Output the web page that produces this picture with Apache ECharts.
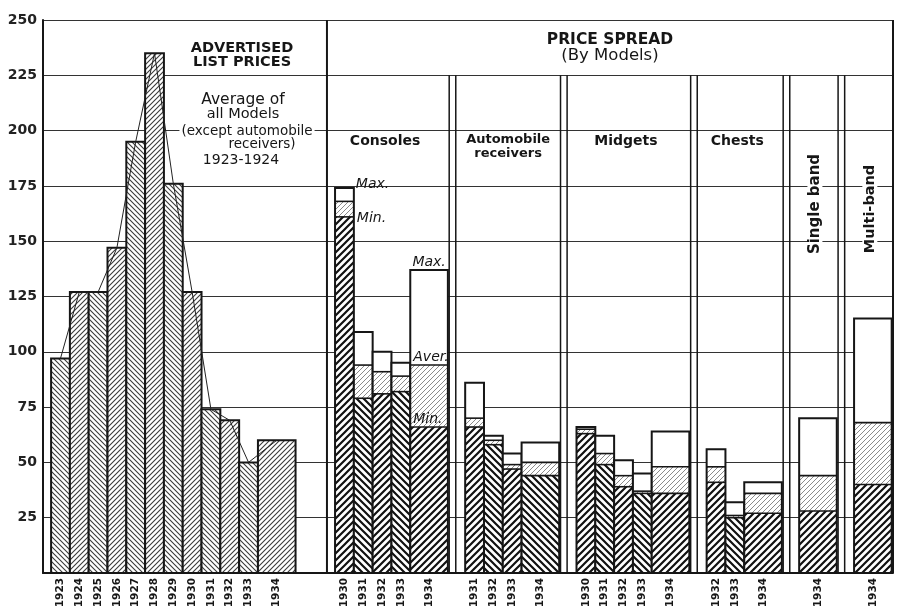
<!DOCTYPE html>
<html>
<head>
<meta charset="utf-8">
<style>
  html, body { margin: 0; padding: 0; background: #fff; }
  #chart { width: 898px; height: 607px; }
</style>
<script src="https://cdn.jsdelivr.net/npm/echarts@6/dist/echarts.min.js"></script>
</head>
<body>
<div id="chart"></div>
<script>
// advertised list prices, average of all models
const listYears = ['1923', '1924', '1925', '1926', '1927', '1928', '1929', '1930', '1931', '1932', '1933', '1934'];
const listPrices = [97, 127, 127, 147, 195, 235, 176, 127, 74, 69, 50, 60];

// price spread by models (min / average / max)
const groupNames = ['Consoles', 'Automobile receivers', 'Midgets', 'Chests', 'Single band', 'Multi-band'];
const consoleYears = ['1930', '1931', '1932', '1933', '1934'];
const consoleMin = [161, 79, 81, 82, 66];
const consoleAver = [168, 94, 91, 89, 94];
const consoleMax = [174, 109, 100, 95, 137];
const autoYears = ['1931', '1932', '1933', '1934'];
const autoMin = [66, 58, 47, 44];
const autoAver = [70, 60, 49, 50];
const autoMax = [86, 62, 54, 59];
const midgetYears = ['1930', '1931', '1932', '1933', '1934'];
const midgetMin = [63, 49, 39, 36, 36];
const midgetAver = [65, 54, 44, 37, 48];
const midgetMax = [66, 62, 51, 45, 64];
const chestYears = ['1932', '1933', '1934'];
const chestMin = [41, 25, 27];
const chestAver = [48, 26, 36];
const chestMax = [56, 32, 41];
const singleYears = ['1934'];
const singleMin = [28];
const singleAver = [44];
const singleMax = [70];
const multiYears = ['1934'];
const multiMin = [40];
const multiAver = [68];
const multiMax = [115];

const yTicks = { min: 0, max: 250, interval: 25 };

// layout in bar-width units along a hidden x axis
const SLOT_START = 0.43;
const LEFT_DIVIDER = 15.1;
const GROUP_PAD = 0.43;
const DIV_GAP = 0.07;
const DIV_W = 0.35;
const AFTER_DIV = 0.5;
const X_MAX = 45.2;
const HEADER_LINE = 225;
const FONT = '"DejaVu Sans", sans-serif';
const INK = '#161616';

const barWidth = y => (y === '1934' ? 2 : 1);

const listBars = [];
let pos = SLOT_START;
listYears.forEach((y, i) => {
  const w = barWidth(y);
  listBars.push({ x0: pos, x1: pos + w, year: y, value: listPrices[i], dir: i % 2 ? 1 : -1 });
  pos += w;
});

const spreadGroups = [
  { years: consoleYears, min: consoleMin, aver: consoleAver, max: consoleMax },
  { years: autoYears, min: autoMin, aver: autoAver, max: autoMax },
  { years: midgetYears, min: midgetMin, aver: midgetAver, max: midgetMax },
  { years: chestYears, min: chestMin, aver: chestAver, max: chestMax },
  { years: singleYears, min: singleMin, aver: singleAver, max: singleMax },
  { years: multiYears, min: multiMin, aver: multiAver, max: multiMax }
];

const spreadBars = [];
const dividers = [{ x: LEFT_DIVIDER, top: 250, w: 2 }];
const groupSpans = [];
let spanStart = LEFT_DIVIDER;
pos = LEFT_DIVIDER + GROUP_PAD;
spreadGroups.forEach((g, gi) => {
  g.years.forEach((y, i) => {
    const w = barWidth(y);
    spreadBars.push({
      x0: pos, x1: pos + w, year: y,
      min: g.min[i], aver: g.aver[i], max: g.max[i],
      dir: i % 2 ? -1 : 1
    });
    pos += w;
  });
  if (gi < spreadGroups.length - 1) {
    const d = pos + DIV_GAP;
    dividers.push({ x: d, top: HEADER_LINE, w: 1.5 }, { x: d + DIV_W, top: HEADER_LINE, w: 1.5 });
    groupSpans.push([spanStart, d]);
    spanStart = d + DIV_W;
    pos = d + DIV_W + AFTER_DIV;
  } else {
    groupSpans.push([spanStart, X_MAX]);
  }
});
dividers.push({ x: X_MAX, top: 250, w: 2 });

// diagonal hatch patterns
function hatch(dir, color, width, size) {
  const c = document.createElement('canvas');
  c.width = size;
  c.height = size;
  const g = c.getContext('2d');
  g.fillStyle = '#fff';
  g.fillRect(0, 0, size, size);
  g.strokeStyle = color;
  g.lineWidth = width;
  g.lineCap = 'square';
  g.beginPath();
  for (let k = -2; k <= 2; k++) {
    if (dir > 0) {
      g.moveTo(k * size - size, 2 * size);
      g.lineTo(k * size + 2 * size, -size);
    } else {
      g.moveTo(k * size - size, -size);
      g.lineTo(k * size + 2 * size, 2 * size);
    }
  }
  g.stroke();
  return { image: c, repeat: 'repeat' };
}
const listHatch = { '1': hatch(1, '#3a3a3a', 1.1, 5), '-1': hatch(-1, '#3a3a3a', 1.1, 5) };
const darkHatch = { '1': hatch(1, '#111', 2.2, 7), '-1': hatch(-1, '#111', 2.2, 7) };
const lightHatch = hatch(1, '#8a8a8a', 1, 5);

function yearLabel(cx, baseY, text) {
  return {
    type: 'text',
    x: cx,
    y: baseY + 5,
    rotation: Math.PI / 2,
    style: { text, align: 'right', verticalAlign: 'middle', font: 'bold 10.5px ' + FONT, fill: INK }
  };
}

function renderListBar(params, api) {
  const b = listBars[params.dataIndex];
  const p0 = api.coord([b.x0, 0]);
  const p1 = api.coord([b.x1, b.value]);
  const w = p1[0] - p0[0];
  return {
    type: 'group',
    children: [
      {
        type: 'rect',
        shape: { x: p0[0], y: p1[1], width: w, height: p0[1] - p1[1] },
        style: { fill: listHatch[b.dir], stroke: INK, lineWidth: 2 }
      },
      yearLabel(p0[0] + w / 2, p0[1], b.year)
    ]
  };
}

function renderSpreadBar(params, api) {
  const b = spreadBars[params.dataIndex];
  const p0 = api.coord([b.x0, 0]);
  const x = p0[0];
  const w = api.coord([b.x1, 0])[0] - x;
  const y0 = p0[1];
  const yMin = api.coord([b.x0, b.min])[1];
  const yAver = api.coord([b.x0, b.aver])[1];
  const yMax = api.coord([b.x0, b.max])[1];
  return {
    type: 'group',
    children: [
      { type: 'rect', shape: { x, y: yMax, width: w, height: yAver - yMax }, style: { fill: '#fff' } },
      { type: 'rect', shape: { x, y: yAver, width: w, height: yMin - yAver }, style: { fill: lightHatch } },
      { type: 'rect', shape: { x, y: yMin, width: w, height: y0 - yMin }, style: { fill: darkHatch[b.dir] } },
      { type: 'line', shape: { x1: x, y1: yAver, x2: x + w, y2: yAver }, style: { stroke: INK, lineWidth: 1.6 } },
      { type: 'line', shape: { x1: x, y1: yMin, x2: x + w, y2: yMin }, style: { stroke: INK, lineWidth: 1.6 } },
      { type: 'rect', shape: { x, y: yMax, width: w, height: y0 - yMax }, style: { fill: 'none', stroke: INK, lineWidth: 2 } },
      yearLabel(x + w / 2, y0, b.year)
    ]
  };
}

function renderDivider(params, api) {
  const d = dividers[params.dataIndex];
  const a = api.coord([d.x, 0]);
  const b = api.coord([d.x, d.top]);
  return {
    type: 'line',
    shape: { x1: a[0], y1: a[1], x2: b[0], y2: b[1] },
    style: { stroke: INK, lineWidth: d.w }
  };
}

const chart = echarts.init(document.getElementById('chart'));

chart.setOption({
  animation: false,
  backgroundColor: '#fff',
  grid: { left: 43, right: 5, top: 20, bottom: 34 },
  xAxis: {
    type: 'value',
    min: 0,
    max: X_MAX,
    axisLine: { show: true, lineStyle: { color: INK, width: 2 } },
    axisTick: { show: false },
    axisLabel: { show: false },
    splitLine: { show: false }
  },
  yAxis: {
    type: 'value',
    min: yTicks.min,
    max: yTicks.max,
    interval: yTicks.interval,
    axisLine: { show: true, lineStyle: { color: INK, width: 2 } },
    axisTick: { show: false },
    axisLabel: {
      margin: 6,
      color: '#222',
      fontFamily: FONT,
      fontSize: 14,
      fontWeight: 'bold',
      formatter: v => (v === 0 ? '' : String(v))
    },
    splitLine: { lineStyle: { color: '#333', width: 1.2 } }
  },
  series: [
    {
      type: 'custom',
      name: 'list',
      renderItem: renderListBar,
      data: listBars.map(b => [b.x0, b.value]),
      z: 2
    },
    {
      type: 'line',
      name: 'polygon',
      data: listBars.map(b => [(b.x0 + b.x1) / 2, b.value]),
      symbol: 'none',
      lineStyle: { color: '#222', width: 1 },
      z: 3
    },
    {
      type: 'custom',
      name: 'spread',
      renderItem: renderSpreadBar,
      data: spreadBars.map(b => [b.x0, b.max]),
      z: 2
    },
    {
      type: 'custom',
      name: 'frame',
      renderItem: renderDivider,
      data: dividers.map(d => [d.x, d.top]),
      z: 4
    }
  ]
});

// texts placed through the axes
const px = (x, y) => chart.convertToPixel({ xAxisIndex: 0, yAxisIndex: 0 }, [x, y]);
const txt = (x, y, text, font, extra) => ({
  type: 'text',
  x, y,
  z: 10,
  style: Object.assign({ text, font, fill: INK, align: 'center', verticalAlign: 'middle' }, extra || {})
});
const capsFont = 'bold 14.5px ' + FONT;
const groupFont = 'bold 14px ' + FONT;
const noteFont = 'italic 14px ' + FONT;

const rightMid = (px(LEFT_DIVIDER, 0)[0] + px(X_MAX, 0)[0]) / 2;
const graphics = [
  txt(242, 48, 'ADVERTISED', capsFont),
  txt(242, 62, 'LIST PRICES', capsFont),
  txt(243, 100, 'Average of', '15.5px ' + FONT),
  txt(243, 114, 'all Models', '14.5px ' + FONT),
  txt(247, 131, '(except automobile', '13.5px ' + FONT, { backgroundColor: '#fff', padding: [0, 2] }),
  txt(262, 144, 'receivers)', '13.5px ' + FONT),
  txt(241, 160, '1923-1924', '14px ' + FONT),
  txt(rightMid, 40, 'PRICE SPREAD', 'bold 15.5px ' + FONT),
  txt(rightMid, 56, '(By Models)', '16.5px ' + FONT)
];

groupSpans.forEach((s, i) => {
  const cx = (px(s[0], 0)[0] + px(s[1], 0)[0]) / 2;
  const name = groupNames[i];
  if (i === 1) {
    const parts = name.split(' ');
    graphics.push(txt(cx, 140, parts[0], 'bold 13px ' + FONT), txt(cx, 154, parts[1], 'bold 13px ' + FONT));
  } else if (i >= 4) {
    const g = txt(cx + 1, i === 4 ? 204 : 209, name, (i === 4 ? 'bold 15px ' : 'bold 14.5px ') + FONT,
      { backgroundColor: '#fff', padding: [0, 3] });
    g.rotation = Math.PI / 2;
    graphics.push(g);
  } else {
    graphics.push(txt(cx - 3, 141, name, groupFont));
  }
});

// Max. / Min. / Aver. notes on the consoles bars
const c0 = spreadBars[0];
const c4 = spreadBars[4];
graphics.push(
  txt(px(c0.x1, 0)[0] + 2, px(0, c0.max)[1] - 4, 'Max.', noteFont, { align: 'left' }),
  txt(px(c0.x1, 0)[0] + 3, px(0, c0.min)[1] + 1, 'Min.', noteFont, { align: 'left' }),
  txt((px(c4.x0, 0)[0] + px(c4.x1, 0)[0]) / 2, px(0, c4.max)[1] - 1, 'Max.', noteFont, { verticalAlign: 'bottom' }),
  txt(px(c4.x0, 0)[0] + 3, px(0, c4.aver)[1] - 1, 'Aver.', noteFont, { align: 'left', verticalAlign: 'bottom' }),
  txt(px(c4.x0, 0)[0] + 3, px(0, c4.min)[1] - 1, 'Min.', noteFont, { align: 'left', verticalAlign: 'bottom' })
);

chart.setOption({ graphic: graphics });
</script>
</body>
</html>
